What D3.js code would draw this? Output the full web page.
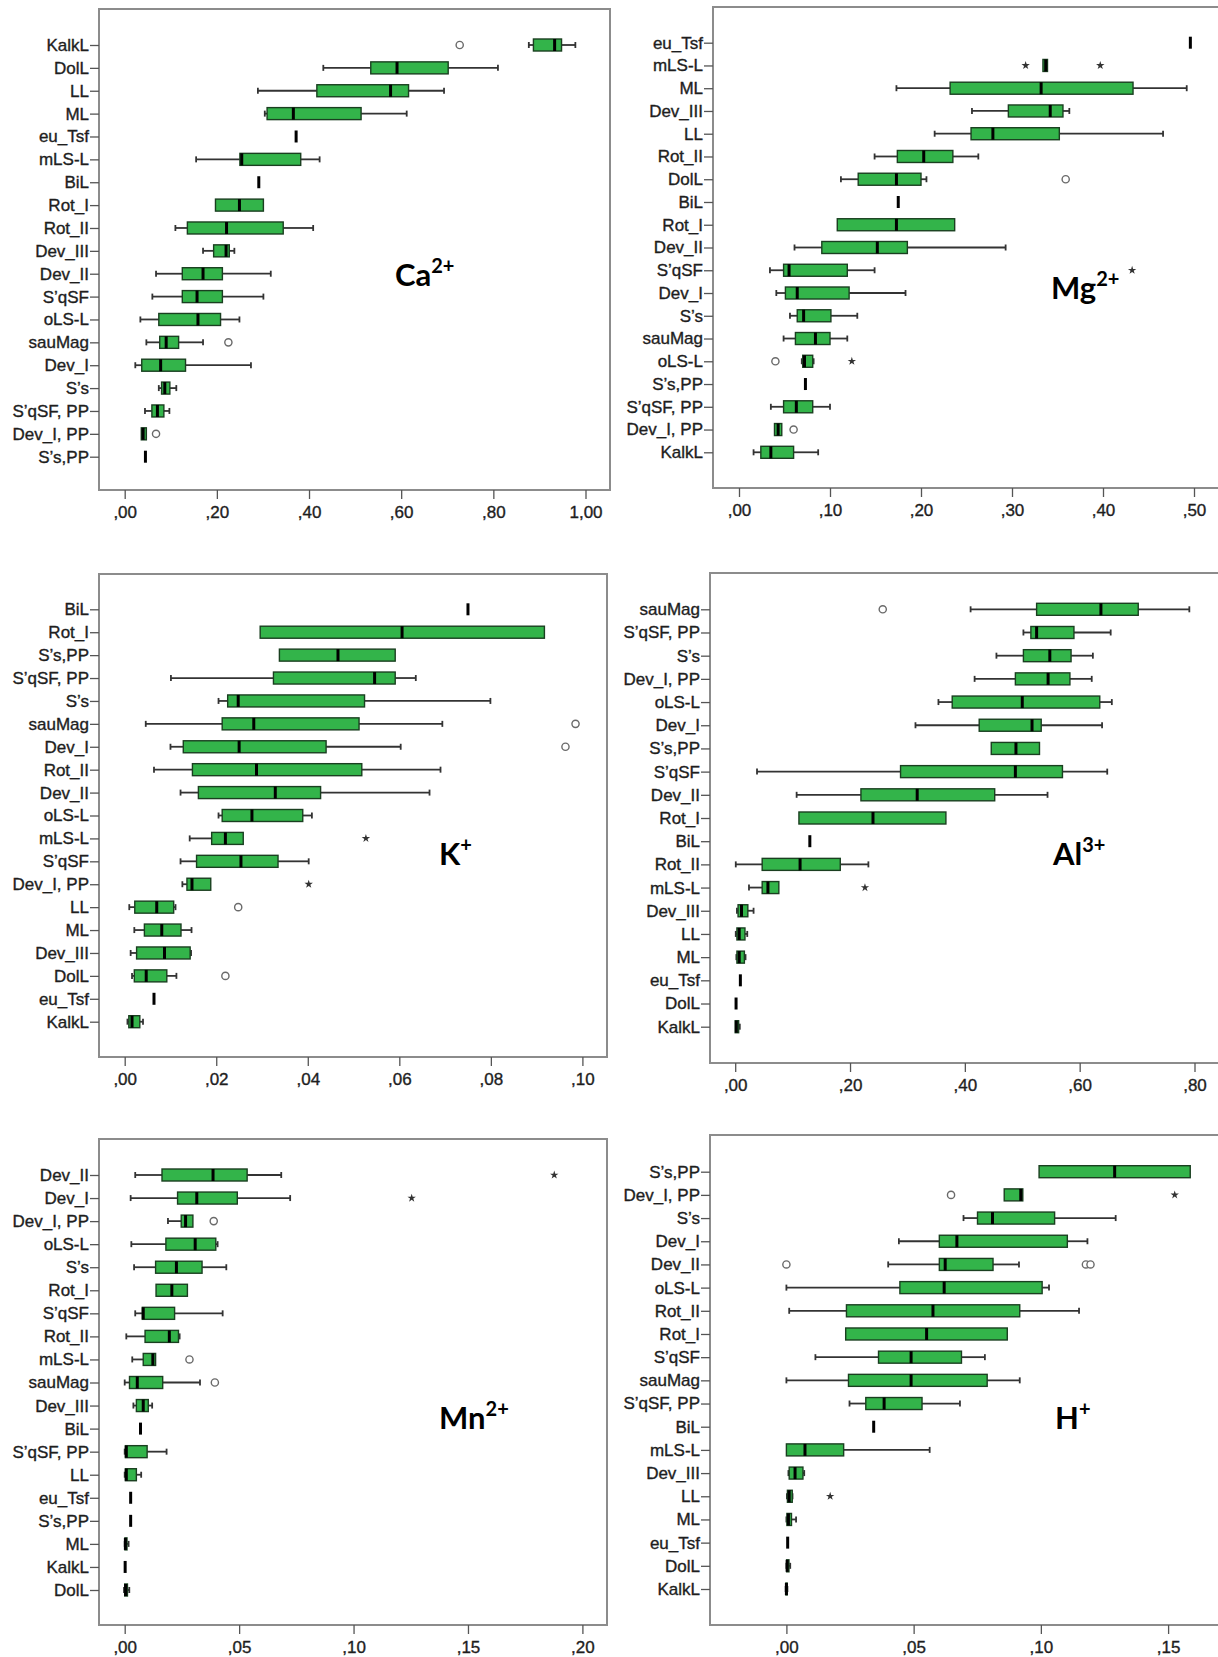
<!DOCTYPE html>
<html>
<head>
<meta charset="utf-8">
<script src="https://cdn.jsdelivr.net/npm/d3@7"></script>
<style>
  html, body { margin: 0; padding: 0; background: #fff; }
  svg { display: block; }
  .cat text, .val text { font-family: "Liberation Sans", Arial, sans-serif; font-size: 17px; fill: #1e1e1e; stroke: #1e1e1e; stroke-width: 0.35px; }
  .ion { font-family: Lato, "Open Sans", sans-serif; font-weight: 700; fill: #000; }
</style>
</head>
<body>
<svg id="chart" width="1218" height="1657"></svg>
<script>
// ---- Ca2+ ----
const caCategories = ["KalkL","DolL","LL","ML","eu_Tsf","mLS-L","BiL","Rot_I","Rot_II","Dev_III","Dev_II","S’qSF","oLS-L","sauMag","Dev_I","S’s","S’qSF, PP","Dev_I, PP","S’s,PP"];
// [lower whisker, Q1, median, Q3, upper whisker]
const caBoxes = [
  [0.877,0.887,0.933,0.948,0.978],
  [0.431,0.534,0.591,0.702,0.810],
  [0.289,0.417,0.577,0.616,0.693],
  [0.304,0.309,0.366,0.513,0.612],
  [0.372,0.372,0.372,0.372,0.372],
  [0.155,0.250,0.254,0.382,0.423],
  [0.291,0.291,0.291,0.291,0.291],
  [0.197,0.197,0.249,0.301,0.301],
  [0.110,0.136,0.221,0.344,0.409],
  [0.170,0.193,0.220,0.227,0.238],
  [0.068,0.125,0.170,0.212,0.317],
  [0.060,0.125,0.157,0.212,0.301],
  [0.034,0.074,0.159,0.208,0.249],
  [0.047,0.076,0.090,0.117,0.170],
  [0.023,0.037,0.078,0.132,0.274],
  [0.074,0.080,0.087,0.098,0.112],
  [0.044,0.059,0.071,0.085,0.097],
  [0.036,0.036,0.040,0.047,0.047],
  [0.045,0.045,0.045,0.045,0.045]
];
const caOutliers = [["KalkL",0.727,"o"],["sauMag",0.225,"o"],["Dev_I, PP",0.068,"o"]];
const caTicks = [0,0.2,0.4,0.6,0.8,1.0];

// ---- Mg2+ ----
const mgCategories = ["eu_Tsf","mLS-L","ML","Dev_III","LL","Rot_II","DolL","BiL","Rot_I","Dev_II","S’qSF","Dev_I","S’s","sauMag","oLS-L","S’s,PP","S’qSF, PP","Dev_I, PP","KalkL"];
const mgBoxes = [
  [0.496,0.496,0.496,0.496,0.496],
  [0.334,0.334,0.337,0.339,0.339],
  [0.173,0.232,0.332,0.433,0.492],
  [0.256,0.296,0.342,0.356,0.363],
  [0.215,0.255,0.279,0.352,0.466],
  [0.149,0.174,0.203,0.235,0.263],
  [0.112,0.131,0.173,0.200,0.206],
  [0.175,0.175,0.175,0.175,0.175],
  [0.108,0.108,0.173,0.237,0.237],
  [0.061,0.091,0.152,0.185,0.293],
  [0.034,0.049,0.055,0.119,0.149],
  [0.041,0.051,0.064,0.121,0.183],
  [0.056,0.064,0.071,0.101,0.130],
  [0.049,0.062,0.084,0.100,0.119],
  [0.069,0.070,0.072,0.081,0.082],
  [0.073,0.073,0.073,0.073,0.073],
  [0.035,0.049,0.063,0.081,0.100],
  [0.039,0.039,0.043,0.047,0.047],
  [0.016,0.024,0.035,0.060,0.087]
];
const mgOutliers = [["mLS-L",0.315,"*"],["mLS-L",0.397,"*"],["DolL",0.359,"o"],["S’qSF",0.432,"*"],["oLS-L",0.040,"o"],["oLS-L",0.124,"*"],["Dev_I, PP",0.060,"o"]];
const mgTicks = [0,0.1,0.2,0.3,0.4,0.5];

// ---- K+ ----
const kCategories = ["BiL","Rot_I","S’s,PP","S’qSF, PP","S’s","sauMag","Dev_I","Rot_II","Dev_II","oLS-L","mLS-L","S’qSF","Dev_I, PP","LL","ML","Dev_III","DolL","eu_Tsf","KalkL"];
const kBoxes = [
  [0.0750,0.0750,0.0750,0.0750,0.0750],
  [0.0296,0.0296,0.0606,0.0917,0.0917],
  [0.0338,0.0338,0.0466,0.0591,0.0591],
  [0.0101,0.0325,0.0546,0.0591,0.0636],
  [0.0205,0.0225,0.0248,0.0524,0.0799],
  [0.0046,0.0213,0.0282,0.0512,0.0694],
  [0.0100,0.0128,0.0250,0.0440,0.0603],
  [0.0064,0.0148,0.0288,0.0518,0.0690],
  [0.0122,0.0161,0.0329,0.0428,0.0666],
  [0.0205,0.0213,0.0278,0.0389,0.0409],
  [0.0142,0.0190,0.0220,0.0259,0.0259],
  [0.0122,0.0157,0.0254,0.0335,0.0402],
  [0.0126,0.0136,0.0147,0.0188,0.0188],
  [0.0010,0.0022,0.0070,0.0107,0.0111],
  [0.0021,0.0043,0.0081,0.0123,0.0146],
  [0.0013,0.0026,0.0087,0.0143,0.0145],
  [0.0016,0.0021,0.0047,0.0092,0.0113],
  [0.0064,0.0064,0.0064,0.0064,0.0064],
  [0.0006,0.0009,0.0016,0.0033,0.0040]
];
const kOutliers = [["sauMag",0.0985,"o"],["Dev_I",0.0963,"o"],["mLS-L",0.0527,"*"],["Dev_I, PP",0.0402,"*"],["LL",0.0248,"o"],["DolL",0.0220,"o"]];
const kTicks = [0,0.02,0.04,0.06,0.08,0.10];

// ---- Al3+ ----
const alCategories = ["sauMag","S’qSF, PP","S’s","Dev_I, PP","oLS-L","Dev_I","S’s,PP","S’qSF","Dev_II","Rot_I","BiL","Rot_II","mLS-L","Dev_III","LL","ML","eu_Tsf","DolL","KalkL"];
const alBoxes = [
  [0.410,0.525,0.637,0.702,0.791],
  [0.502,0.515,0.525,0.590,0.654],
  [0.455,0.502,0.548,0.585,0.623],
  [0.417,0.488,0.545,0.583,0.621],
  [0.354,0.378,0.500,0.635,0.656],
  [0.314,0.425,0.517,0.533,0.639],
  [0.446,0.446,0.489,0.530,0.530],
  [0.038,0.288,0.488,0.570,0.648],
  [0.107,0.219,0.317,0.452,0.544],
  [0.111,0.111,0.240,0.367,0.367],
  [0.130,0.130,0.130,0.130,0.130],
  [0.001,0.047,0.113,0.183,0.232],
  [0.024,0.047,0.057,0.076,0.076],
  [0.003,0.005,0.011,0.022,0.032],
  [0.001,0.003,0.007,0.017,0.021],
  [0.002,0.003,0.007,0.016,0.018],
  [0.009,0.009,0.009,0.009,0.009],
  [0.0015,0.0015,0.0015,0.0015,0.0015],
  [0.000,0.000,0.002,0.006,0.008]
];
const alOutliers = [["sauMag",0.257,"o"],["mLS-L",0.226,"*"]];
const alTicks = [0,0.2,0.4,0.6,0.8];

// ---- Mn2+ ----
const mnCategories = ["Dev_II","Dev_I","Dev_I, PP","oLS-L","S’s","Rot_I","S’qSF","Rot_II","mLS-L","sauMag","Dev_III","BiL","S’qSF, PP","LL","eu_Tsf","S’s,PP","ML","KalkL","DolL"];
const mnBoxes = [
  [0.0046,0.0163,0.0386,0.0535,0.0684],
  [0.0026,0.0231,0.0315,0.0492,0.0723],
  [0.0189,0.0247,0.0266,0.0298,0.0298],
  [0.0029,0.0180,0.0308,0.0398,0.0406],
  [0.0041,0.0135,0.0226,0.0338,0.0444],
  [0.0137,0.0137,0.0206,0.0274,0.0274],
  [0.0046,0.0077,0.0081,0.0218,0.0428],
  [0.0007,0.0089,0.0195,0.0235,0.0240],
  [0.0033,0.0081,0.0123,0.0135,0.0135],
  [0.0000,0.0021,0.0055,0.0166,0.0329],
  [0.0038,0.0051,0.0081,0.0103,0.0120],
  [0.0069,0.0069,0.0069,0.0069,0.0069],
  [0.0000,0.0003,0.0007,0.0098,0.0183],
  [0.0000,0.0003,0.0007,0.0051,0.0072],
  [0.0026,0.0026,0.0026,0.0026,0.0026],
  [0.0026,0.0026,0.0026,0.0026,0.0026],
  [0.0000,0.0001,0.0003,0.0010,0.0017],
  [0.0002,0.0002,0.0002,0.0002,0.0002],
  [-0.0003,0.0000,0.0004,0.0012,0.0020]
];
const mnOutliers = [["Dev_II",0.1877,"*"],["Dev_I",0.1254,"*"],["Dev_I, PP",0.0389,"o"],["mLS-L",0.0283,"o"],["sauMag",0.0394,"o"]];
const mnTicks = [0,0.05,0.10,0.15,0.20];

// ---- H+ ----
const hCategories = ["S’s,PP","Dev_I, PP","S’s","Dev_I","Dev_II","oLS-L","Rot_II","Rot_I","S’qSF","sauMag","S’qSF, PP","BiL","mLS-L","Dev_III","LL","ML","eu_Tsf","DolL","KalkL"];
const hBoxes = [
  [0.0993,0.0993,0.1290,0.1587,0.1587],
  [0.0856,0.0856,0.0921,0.0929,0.0929],
  [0.0696,0.0751,0.0810,0.1054,0.1294],
  [0.0442,0.0601,0.0670,0.1104,0.1183],
  [0.0400,0.0601,0.0624,0.0812,0.0914],
  [0.0000,0.0446,0.0620,0.1005,0.1032],
  [0.0011,0.0236,0.0576,0.0917,0.1150],
  [0.0233,0.0233,0.0551,0.0868,0.0868],
  [0.0114,0.0362,0.0490,0.0688,0.0780],
  [0.0000,0.0244,0.0490,0.0789,0.0917],
  [0.0248,0.0312,0.0384,0.0533,0.0682],
  [0.0343,0.0343,0.0343,0.0343,0.0343],
  [0.0000,0.0000,0.0073,0.0225,0.0563],
  [0.0008,0.0011,0.0034,0.0065,0.0070],
  [0.0002,0.0004,0.0011,0.0023,0.0024],
  [0.0000,0.0002,0.0008,0.0020,0.0038],
  [0.0005,0.0005,0.0005,0.0005,0.0005],
  [0.0000,0.0001,0.0003,0.0010,0.0015],
  [-0.0003,-0.0002,0.0000,0.0003,0.0004]
];
const hOutliers = [["Dev_I, PP",0.0647,"o"],["Dev_I, PP",0.1526,"*"],["Dev_II",0.0000,"o"],["Dev_II",0.1177,"o"],["Dev_II",0.1195,"o"],["LL",0.0172,"*"]];
const hTicks = [0,0.05,0.10,0.15];

// Panel frames and tick anchor pixels
const panels = [
  {ion:"Ca", sup:"2+", cats:caCategories, boxes:caBoxes, outliers:caOutliers, ticks:caTicks,
   L:99, T:9, R:610, B:490, x0:124.7, x1:585.5, y0:45, y1:456.7, lx:395, ly:286},
  {ion:"Mg", sup:"2+", cats:mgCategories, boxes:mgBoxes, outliers:mgOutliers, ticks:mgTicks,
   L:713, T:7, R:1240, B:488, x0:739, x1:1194, y0:42.7, y1:452.3, lx:1051, ly:299},
  {ion:"K", sup:"+", cats:kCategories, boxes:kBoxes, outliers:kOutliers, ticks:kTicks,
   L:99, T:574, R:607, B:1057, x0:124.7, x1:582.4, y0:609.3, y1:1021.7, lx:439, ly:865},
  {ion:"Al", sup:"3+", cats:alCategories, boxes:alBoxes, outliers:alOutliers, ticks:alTicks,
   L:710, T:573, R:1240, B:1063, x0:735.2, x1:1194.5, y0:609.3, y1:1026.7, lx:1053, ly:865},
  {ion:"Mn", sup:"2+", cats:mnCategories, boxes:mnBoxes, outliers:mnOutliers, ticks:mnTicks,
   L:99, T:1139, R:607, B:1625, x0:124.7, x1:582.4, y0:1175, y1:1590, lx:439, ly:1429},
  {ion:"H", sup:"+", cats:hCategories, boxes:hBoxes, outliers:hOutliers, ticks:hTicks,
   L:710, T:1135, R:1240, B:1625, x0:786.4, x1:1168.1, y0:1171.7, y1:1589, lx:1055, ly:1429}
];

const svg = d3.select("#chart");
const fmt = v => {
  const s = d3.format(".2f")(v);
  return (s.startsWith("0") ? s.slice(1) : s).replace(".", ",");
};
const BOX_H = 12;
const GREEN = "#33b44a";
const BOX_STROKE = "#1a3f20";
const WHISKER = "#333";

panels.forEach(p => {
  const g = svg.append("g");
  const tMax = p.ticks[p.ticks.length - 1];
  const x = d3.scaleLinear().domain([0, tMax]).range([p.x0, p.x1]);
  const y = d3.scalePoint().domain(p.cats).range([p.y0, p.y1]);

  // frame
  g.append("rect")
    .attr("x", p.L).attr("y", p.T)
    .attr("width", p.R - p.L).attr("height", p.B - p.T)
    .attr("fill", "none").attr("stroke", "#8c8c8c").attr("stroke-width", 2);

  // category axis
  const ya = g.append("g").attr("class", "cat")
    .attr("transform", `translate(${p.L},0)`)
    .call(d3.axisLeft(y).tickSize(9).tickPadding(1));
  ya.select(".domain").remove();
  ya.selectAll("line").attr("stroke", "#555").attr("stroke-width", 1.3);

  // value axis
  const xa = g.append("g").attr("class", "val")
    .attr("transform", `translate(0,${p.B})`)
    .call(d3.axisBottom(x).tickValues(p.ticks).tickFormat(fmt).tickSize(9).tickPadding(7));
  xa.select(".domain").remove();
  xa.selectAll("line").attr("stroke", "#555").attr("stroke-width", 1.3);

  // boxes
  const rows = p.cats.map((c, i) => ({cat: c, s: p.boxes[i]}));
  const row = g.append("g").selectAll("g").data(rows).join("g")
    .attr("transform", d => `translate(0,${y(d.cat)})`);

  row.each(function(d) {
    const r = d3.select(this);
    const [lo, q1, md, q3, hi] = d.s;
    if (lo < q1) {
      r.append("line").attr("x1", x(lo)).attr("x2", x(q1)).attr("y1", 0).attr("y2", 0)
        .attr("stroke", WHISKER).attr("stroke-width", 1.8);
      r.append("line").attr("x1", x(lo)).attr("x2", x(lo)).attr("y1", -3).attr("y2", 3)
        .attr("stroke", WHISKER).attr("stroke-width", 1.8);
    }
    if (hi > q3) {
      r.append("line").attr("x1", x(q3)).attr("x2", x(hi)).attr("y1", 0).attr("y2", 0)
        .attr("stroke", WHISKER).attr("stroke-width", 1.8);
      r.append("line").attr("x1", x(hi)).attr("x2", x(hi)).attr("y1", -3).attr("y2", 3)
        .attr("stroke", WHISKER).attr("stroke-width", 1.8);
    }
    if (q3 > q1) {
      r.append("rect").attr("x", x(q1)).attr("y", -BOX_H / 2)
        .attr("width", Math.max(x(q3) - x(q1), 1)).attr("height", BOX_H)
        .attr("fill", GREEN).attr("stroke", BOX_STROKE).attr("stroke-width", 1.4);
    }
    r.append("line").attr("x1", x(md)).attr("x2", x(md))
      .attr("y1", -BOX_H / 2).attr("y2", BOX_H / 2)
      .attr("stroke", "#000").attr("stroke-width", 3);
  });

  // outliers and extremes
  const outs = p.outliers.map(o => ({cat: o[0], v: o[1], kind: o[2]}));
  g.append("g").selectAll("circle").data(outs.filter(o => o.kind === "o")).join("circle")
    .attr("cx", d => x(d.v)).attr("cy", d => y(d.cat)).attr("r", 3.6)
    .attr("fill", "#fff").attr("stroke", "#6a6a6a").attr("stroke-width", 1.4);
  g.append("g").selectAll("path").data(outs.filter(o => o.kind === "*")).join("path")
    .attr("transform", d => `translate(${x(d.v)},${y(d.cat)})`)
    .attr("d", d3.symbol(d3.symbolStar, 22))
    .attr("fill", "#333");

  // ion label
  const t = g.append("text").attr("class", "ion")
    .attr("x", p.lx).attr("y", p.ly).attr("font-size", 31);
  t.append("tspan").text(p.ion);
  t.append("tspan").attr("dy", -13).attr("font-size", 20).text(p.sup);
});
</script>
</body>
</html>
